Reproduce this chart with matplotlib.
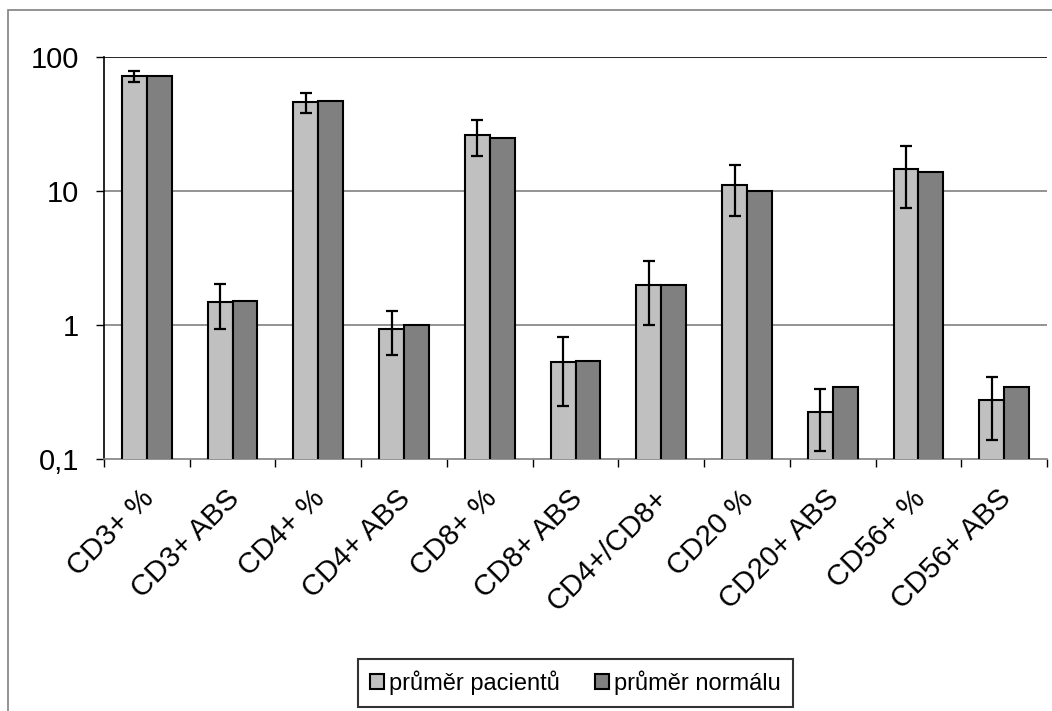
import matplotlib.pyplot as plt
from matplotlib.patches import Rectangle
from matplotlib.ticker import FixedLocator, NullFormatter
from matplotlib.transforms import ScaledTranslation
import numpy as np

plt.rcParams['font.family'] = ['Liberation Sans', 'DejaVu Sans']

categories = ["CD3+ %", "CD3+ ABS", "CD4+ %", "CD4+ ABS", "CD8+ %", "CD8+ ABS",
              "CD4+/CD8+", "CD20 %", "CD20+ ABS", "CD56+ %", "CD56+ ABS"]
pacienti = [72, 1.48, 46, 0.94, 26, 0.53, 2.0, 11.1, 0.224, 14.6, 0.274]
pacienti_err = [7, 0.55, 7.7, 0.34, 7.7, 0.28, 1.0, 4.6, 0.11, 7.1, 0.135]
normaly = [72, 1.5, 47, 1.0, 24.7, 0.54, 2.0, 10.0, 0.345, 13.8, 0.345]
ytick_vals = [0.1, 1, 10, 100]
ytick_labels = ["0,1", "1", "10", "100"]

fig = plt.figure(figsize=(10.52, 7.11), dpi=100)
ax = fig.add_axes([104 / 1052, 1 - 459 / 711, 943 / 1052, 402 / 711])

# outer chart frame (runs past the right and bottom edge)
fig.patches.append(Rectangle((8 / 1052, -0.2), 1.2, 1.2 - 10 / 711,
                             transform=fig.transFigure, fill=False,
                             edgecolor="#808080", linewidth=1.2))

x = np.arange(len(categories))
w = 0.29
ax.bar(x - w / 2, pacienti, w, color="#C0C0C0", edgecolor="black",
       linewidth=1.5, label="průměr pacientů", zorder=3)
ax.bar(x + w / 2, normaly, w, color="#808080", edgecolor="black",
       linewidth=1.5, label="průměr normálu", zorder=3)
ax.errorbar(x - w / 2, pacienti, yerr=pacienti_err, fmt="none", ecolor="black",
            elinewidth=1.6, capsize=4.5, capthick=1.6, zorder=4)

ax.set_yscale("log")
ax.set_ylim(0.1, 100)
ax.set_xlim(-0.5, len(categories) - 0.5)
ax.yaxis.set_major_locator(FixedLocator(ytick_vals))
ax.set_yticklabels(ytick_labels)
ax.yaxis.set_minor_locator(FixedLocator([]))
ax.yaxis.set_minor_formatter(NullFormatter())
for v in ytick_vals[1:]:
    ax.axhline(v, color="black" if v == 100 else "#808080", linewidth=1.2, zorder=1)

# category labels, rotated like Excel does it
ax.set_xticks(x)
ax.set_xticklabels([])
shift = ScaledTranslation(8 / 100, -41 / 100, fig.dpi_scale_trans)
for xi, lab in zip(x, categories):
    ax.text(xi, 0, lab, rotation=45, ha="right", va="baseline",
            rotation_mode="anchor", fontsize=21,
            transform=ax.get_xaxis_transform() + shift, clip_on=False)
ax.xaxis.set_minor_locator(FixedLocator(np.arange(-0.5, len(categories), 1.0)))
ax.tick_params(axis="x", which="major", length=0)
ax.tick_params(axis="x", which="minor", length=6, width=1, color="black")
ax.tick_params(axis="y", length=6, width=1, labelsize=21, pad=12)

for s in ["top", "right"]:
    ax.spines[s].set_visible(False)
ax.spines["left"].set_color("black")
ax.spines["bottom"].set_color("#808080")
ax.spines["left"].set_linewidth(1.2)
ax.spines["bottom"].set_linewidth(1.2)

leg = ax.legend(loc="center", bbox_to_anchor=(0.5, (1 - 683 / 711 - (1 - 459 / 711)) / (402 / 711)),
                ncol=2, fontsize=17, frameon=True, fancybox=False,
                handlelength=0.6, handleheight=0.6, handletextpad=0.2,
                columnspacing=1.5, borderpad=0.5, borderaxespad=0)
leg.get_frame().set_edgecolor("black")
leg.get_frame().set_linewidth(1.5)

fig.savefig("out.png", dpi=100)
